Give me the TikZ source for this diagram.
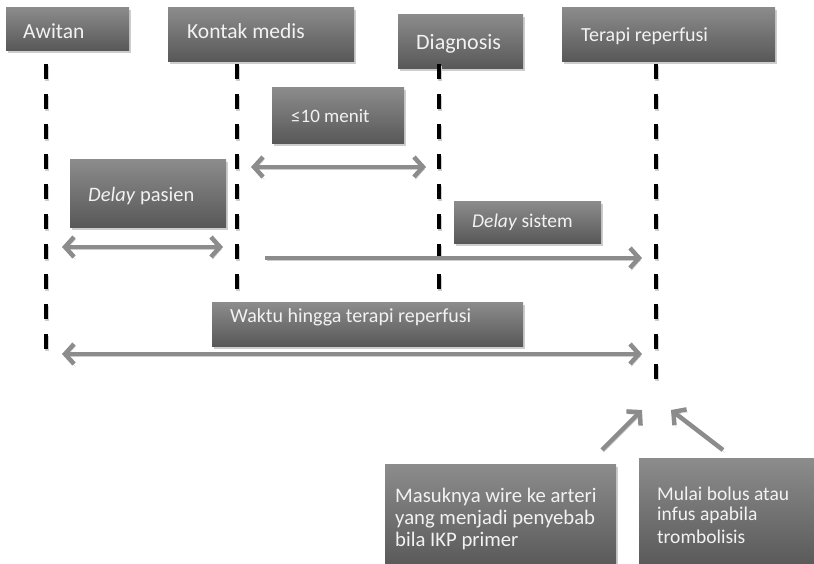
\documentclass[tikz,border=0pt]{standalone}
\usepackage{fontspec}
\setmainfont{Carlito}
\usetikzlibrary{arrows.meta,shadows,calc}
\definecolor{boxtop}{RGB}{140,140,140}
\definecolor{boxbot}{RGB}{88,88,88}
\definecolor{shadowgray}{RGB}{205,205,205}
\definecolor{arrowgray}{RGB}{140,140,140}
\definecolor{txtwhite}{RGB}{242,242,242}
\tikzset{
  gbox/.style={rectangle, top color=boxtop, bottom color=boxbot, draw=none,
    inner sep=0pt, anchor=north west,
    drop shadow={shadow xshift=1.5pt, shadow yshift=-2.5pt, fill=shadowgray, opacity=1}},
  btxt/.style={anchor=base west, inner sep=0pt, text=txtwhite, align=left},
  vline/.style={line width=4pt, black, dash pattern=on 15pt off 15pt,
    preaction={draw=shadowgray, line width=4pt, dash pattern=on 15pt off 15pt, transform canvas={shift={(0.5pt,-2pt)}}}},
  garrow/.style={line width=4.5pt, arrowgray,
    preaction={draw=shadowgray, transform canvas={shift={(1.5pt,-2.5pt)}}}},
  dbl/.style={garrow, {Straight Barb[length=9pt,width=20pt]}-{Straight Barb[length=9pt,width=20pt]}},
  sgl/.style={garrow, -{Straight Barb[length=9pt,width=20pt]}},
}
\newcommand{\fs}[1]{\fontsize{#1}{#1}\selectfont}
\begin{document}
\begin{tikzpicture}[x=1pt,y=-1pt]
\useasboundingbox (0,0) rectangle (814,564);
% boxes
\node[gbox, minimum width=123pt, minimum height=43pt] (bAw) at (6,7) {};
\node[gbox, minimum width=186pt, minimum height=54pt] (bKo) at (168,7) {};
\node[gbox, minimum width=125pt, minimum height=54pt] (bDi) at (398,14) {};
\node[gbox, minimum width=213pt, minimum height=54pt] (bTe) at (562,7) {};
\node[gbox, minimum width=132pt, minimum height=56pt] (bMe) at (272,87) {};
\node[gbox, minimum width=156pt, minimum height=68pt] (bDp) at (70,159) {};
\node[gbox, minimum width=147pt, minimum height=42pt] (bDs) at (454,201) {};
\node[gbox, minimum width=311pt, minimum height=44pt] (bWa) at (212,302) {};
\node[gbox, minimum width=231pt, minimum height=104pt] (bMa) at (385,464) {};
\node[gbox, minimum width=176pt, minimum height=110pt] (bMu) at (639,458) {};
% texts
\node[btxt] (tAw) at (23,39) {\fs{21.5}Awitan};
\node[btxt] (tKo) at (187,39) {\fs{21.5}Kontak medis};
\node[btxt] (tDi) at (416,50) {\fs{22}Diagnosis};
\node[btxt] (tTe) at (581,42) {\fs{20}Terapi reperfusi};
\node[btxt] (tMe) at (291,123) {\fs{19}≤10 menit};
\node[btxt] (tDp) at (88,202) {\fs{20.5}\textit{Delay} pasien};
\node[btxt] (tDs) at (472,228) {\fs{19.5}\textit{Delay} sistem};
\node[btxt] (tWa) at (230,322) {\fs{20}Waktu hingga terapi reperfusi};
\node[btxt] (tMa) at (395,546)
  {\fs{20.7}Masuknya wire ke arteri\\[2.8pt]\fs{20.7}yang menjadi penyebab\\[2.8pt]\fs{20.7}bila IKP primer};
\node[btxt] (tMu) at (657,543)
  {\fs{19.5}Mulai bolus atau\\[5pt]\fs{19.5}infus apabila\\[5pt]\fs{19.5}trombolisis};
% vertical dashed lines
\coordinate (aT) at (46,64);  \coordinate (aB) at (46,356);
\coordinate (kT) at (237,64); \coordinate (kB) at (237,290);
\coordinate (dT) at (439,64); \coordinate (dB) at (439,290);
\coordinate (rT) at (656,64); \coordinate (rB) at (656,393);
\draw[vline] (aT) -- (aB);
\draw[vline] (kT) -- (kB);
\draw[vline] (dT) -- (dB);
\draw[vline] (rT) -- (rB);
% arrows
\coordinate (m1) at (251,167); \coordinate (m2) at (426,167);
\coordinate (p1) at (62,247);  \coordinate (p2) at (223,247);
\coordinate (s1) at (265,258); \coordinate (s2) at (642,258);
\coordinate (w1) at (62,354);  \coordinate (w2) at (642,354);
\coordinate (x1) at (602,450); \coordinate (x2) at (642,410);
\coordinate (y1) at (723,450); \coordinate (y2) at (671,410);
\draw[dbl] (m1) -- (m2);
\draw[dbl] (p1) -- (p2);
\draw[sgl] (s1) -- (s2);
\draw[dbl] (w1) -- (w2);
\draw[sgl] (x1) -- (x2);
\draw[sgl] (y1) -- (y2);
\end{tikzpicture}
\end{document}
